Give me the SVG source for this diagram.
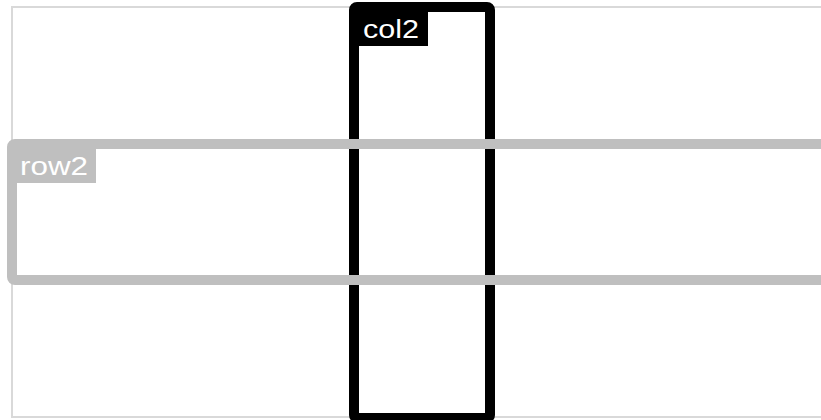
<svg xmlns="http://www.w3.org/2000/svg" width="821" height="420" viewBox="0 0 821 420">
<style>
.lbl{font-family:"Liberation Sans",Arial,sans-serif;font-size:26px;fill:#ffffff}
</style>
<rect width="821" height="420" fill="#ffffff"/>
<g id="grid">
<rect x="12" y="7" width="830" height="410" fill="none" stroke="#d9d9d9" stroke-width="2"/>
</g>
<g id="col2">
<rect x="354" y="7" width="136" height="411" rx="3" fill="none" stroke="#000000" stroke-width="10"/>
<rect x="359" y="12" width="69" height="34" fill="#000000"/>
<text class="lbl" x="363" y="38" textLength="56" lengthAdjust="spacingAndGlyphs">col2</text>
</g>
<g id="row2">
<rect x="12" y="144" width="830" height="136" rx="3" fill="none" stroke="#bfbfbf" stroke-width="10"/>
<rect x="17" y="149" width="79" height="34" fill="#bfbfbf"/>
<text class="lbl" x="20" y="175" textLength="68" lengthAdjust="spacingAndGlyphs">row2</text>
</g>
<g id="connectors"></g>
</svg>
